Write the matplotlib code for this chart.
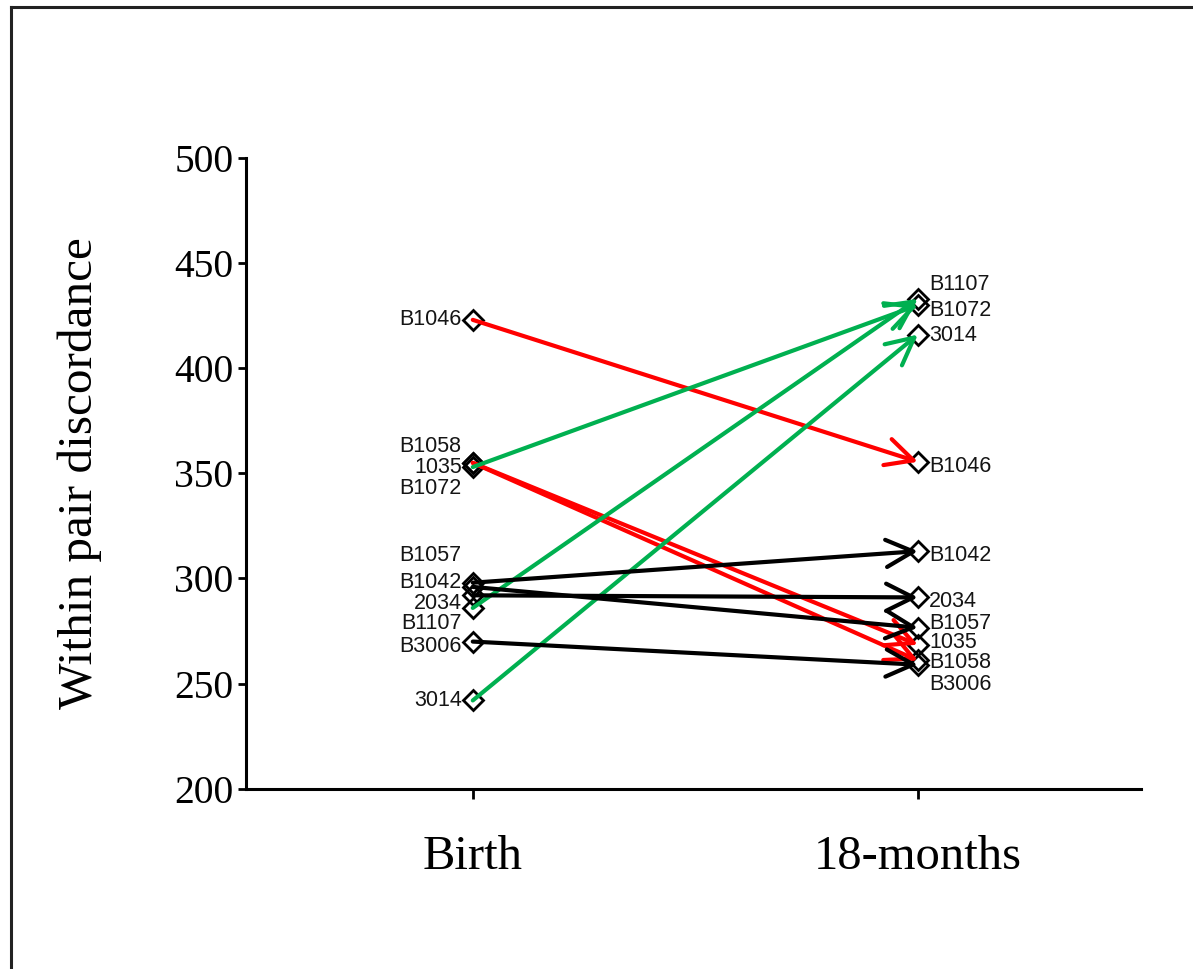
import matplotlib.pyplot as plt
from matplotlib.lines import Line2D

# data
pairs = ['B1046', '1035', 'B1058', 'B1072', 'B1107', '3014',
         'B1042', '2034', 'B1057', 'B3006']
birth = [423, 355, 355, 353, 286, 242, 298, 292, 296, 270]
months18 = [355.5, 268.5, 261, 430, 433, 416, 313, 291, 276.6, 259]
colors = ['#ff0000', '#ff0000', '#ff0000', '#00b050', '#00b050', '#00b050',
          'black', 'black', 'black', 'black']
time_labels = ['Birth', '18-months']
yticks = [200, 250, 300, 350, 400, 450, 500]

# label nudges (data units) so the names do not overlap
left_off = {'B1046': 0, 'B1058': 7.8, '1035': -2, 'B1072': -10, 'B1057': 15,
            'B1042': 0, '2034': -4, 'B1107': -7.5, 'B3006': -2.5, '3014': 0}
right_off = {'B1107': 7, 'B1072': -2.7, '3014': -0.6, 'B1046': -2.4, 'B1042': -2,
             '2034': -2, 'B1057': 2, '1035': 1, 'B1058': -1, 'B3006': -9.5}

fig = plt.figure(figsize=(11.93, 9.69), dpi=100)
ax = fig.add_axes([0.206, 0.186, 0.750, 0.651])

for name, a, b, c in zip(pairs, birth, months18, colors):
    ax.annotate('', xy=(1, b), xytext=(0, a),
                arrowprops=dict(arrowstyle='->, head_length=0.7, head_width=0.35',
                                lw=3, color=c, shrinkA=0, shrinkB=0,
                                mutation_scale=28))

ax.plot([0] * len(birth), birth, 'D', mfc='none', mec='black', mew=2, ms=10, zorder=1)
ax.plot([1] * len(months18), months18, 'D', mfc='none', mec='black', mew=2, ms=10, zorder=1)

lab_font = dict(family='Liberation Sans', fontsize=15.5, color='#151515')
for name, a, b in zip(pairs, birth, months18):
    ax.text(-0.025, a + left_off[name], name, ha='right', va='center', **lab_font)
    ax.text(1.025, b + right_off[name], name, ha='left', va='center', **lab_font)

ax.set_xlim(-0.51, 1.5)
ax.set_ylim(200, 500)
ax.set_yticks(yticks)
ax.set_xticks([0, 1])
ax.set_xticklabels(time_labels, family='Liberation Serif', fontsize=35)
ax.set_yticklabels([str(t) for t in yticks], family='Liberation Serif', fontsize=28.5)
ax.set_ylabel('Within pair discordance', family='Liberation Serif', fontsize=35.5,
              labelpad=52)
ax.spines['top'].set_visible(False)
ax.spines['right'].set_visible(False)
ax.spines['left'].set_linewidth(2.2)
ax.spines['bottom'].set_linewidth(2.2)
ax.tick_params(axis='y', length=6, width=2, pad=3)
ax.tick_params(axis='x', length=7, width=2, pad=26)

# frame around the figure
fig.add_artist(Line2D([0.0092, 0.0092], [0, 0.993], color='#222222', lw=2.2))
fig.add_artist(Line2D([0.0092, 1], [0.993, 0.993], color='#222222', lw=2.2))

fig.savefig('out.png', dpi=100)
